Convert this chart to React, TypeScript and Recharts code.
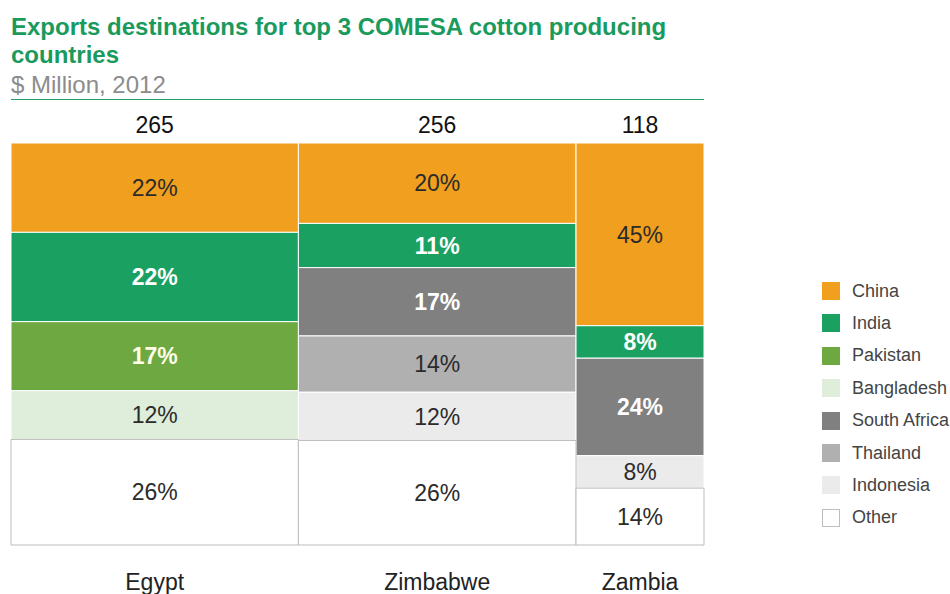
import React from 'react';
import { ComposedChart, XAxis, YAxis, ReferenceArea, Scatter, LabelList } from 'recharts';

const countries = ['Egypt', 'Zimbabwe', 'Zambia'];
const totals = [265, 256, 118];
const destinations = ['China', 'India', 'Pakistan', 'Bangladesh', 'South Africa', 'Thailand', 'Indonesia', 'Other'];
const egyptShares = [22, 22, 17, 12, 0, 0, 0, 26];
const zimbabweShares = [20, 11, 0, 0, 17, 14, 12, 26];
const zambiaShares = [45, 8, 0, 0, 24, 0, 8, 14];
const colors = ['#F09F1E', '#1AA162', '#6DA841', '#DEEEDB', '#808080', '#B0B0B0', '#EBEBEB', '#FFFFFF'];
const labelColors = ['#2b2b2b', '#FFFFFF', '#FFFDE8', '#2b2b2b', '#FFFFFF', '#2b2b2b', '#2b2b2b', '#2b2b2b'];
const labelWeights = ['normal', 'bold', 'bold', 'normal', 'bold', 'normal', 'normal', 'normal'];

const allShares = [egyptShares, zimbabweShares, zambiaShares];
const grandTotal = totals.reduce((a, b) => a + b, 0);
const starts = totals.map((_, i) => totals.slice(0, i).reduce((a, b) => a + b, 0));
const mids = totals.map((t, i) => starts[i] + t / 2);

const totalData = countries.map((c, i) => ({ x: mids[i], y: 100, total: totals[i] }));

type Seg = { key: string; x1: number; x2: number; y1: number; y2: number; share: number; d: number };
const segments: Seg[] = [];
allShares.forEach((shares, ci) => {
  const sum = shares.reduce((a, b) => a + b, 0);
  let cum = 0;
  shares.forEach((s, di) => {
    if (s <= 0) return;
    const y2 = 100 - (cum / sum) * 100;
    cum += s;
    const y1 = 100 - (cum / sum) * 100;
    segments.push({ key: `${ci}-${di}`, x1: starts[ci], x2: starts[ci] + totals[ci], y1, y2, share: s, d: di });
  });
});
const orderedSegments = [...segments.filter((s) => s.d !== 7), ...segments.filter((s) => s.d === 7)];

const FONT = '"Liberation Sans", Arial, Helvetica, sans-serif';

export default function App() {
  return (
    <div style={{ position: 'absolute', left: 0, top: 0, width: 950, height: 594, fontFamily: FONT, background: '#fff' }}>
      <div style={{ position: 'absolute', left: 11, top: 13, fontSize: 24, fontWeight: 'bold', color: '#1A9A5C', lineHeight: '28px', whiteSpace: 'nowrap' }}>
        Exports destinations for top 3 COMESA cotton producing<br />countries
      </div>
      <div style={{ position: 'absolute', left: 11, top: 71, fontSize: 24, color: '#8C8C8C', lineHeight: '28px', whiteSpace: 'nowrap' }}>
        $ Million, 2012
      </div>
      <div style={{ position: 'absolute', left: 11, top: 99, width: 693, height: 1, background: '#22A065' }} />
      <ComposedChart width={950} height={594} data={totalData} margin={{ top: 143, right: 246, bottom: 0, left: 11 }}>
        <XAxis
          dataKey="x"
          type="number"
          domain={[0, grandTotal]}
          ticks={mids}
          interval={0}
          tickFormatter={(v: number) => countries[mids.indexOf(v)]}
          axisLine={false}
          tickLine={false}
          tickSize={0}
          tickMargin={29}
          height={49}
          tick={{ fontSize: 23, fill: '#222' }}
        />
        <YAxis type="number" domain={[0, 100]} hide />
        {orderedSegments.map((s) => (
          <ReferenceArea
            key={s.key}
            x1={s.x1}
            x2={s.x2}
            y1={s.y1}
            y2={s.y2}
            fill={colors[s.d]}
            fillOpacity={1}
            stroke={s.d === 7 ? '#BDBDBD' : '#FFFFFF'}
            strokeWidth={1}
            ifOverflow="visible"
            label={{ value: `${s.share}%`, position: 'center', fill: labelColors[s.d], fontSize: 23, fontWeight: labelWeights[s.d] }}
          />
        ))}
        <Scatter dataKey="y" isAnimationActive={false} shape={() => <g />}>
          <LabelList dataKey="total" position="top" offset={5} fill="#111" fontSize={23} />
        </Scatter>
      </ComposedChart>
      {destinations.map((d, i) => (
        <div key={d} style={{ position: 'absolute', left: 822, top: 291 + i * 32.4 - 10, height: 20, display: 'flex', alignItems: 'center' }}>
          <div style={{ width: 18, height: 18, boxSizing: 'border-box', background: colors[i], border: i === 7 ? '1px solid #BDBDBD' : 'none' }} />
          <div style={{ marginLeft: 12, fontSize: 18, color: '#444', whiteSpace: 'nowrap' }}>{d}</div>
        </div>
      ))}
    </div>
  );
}
